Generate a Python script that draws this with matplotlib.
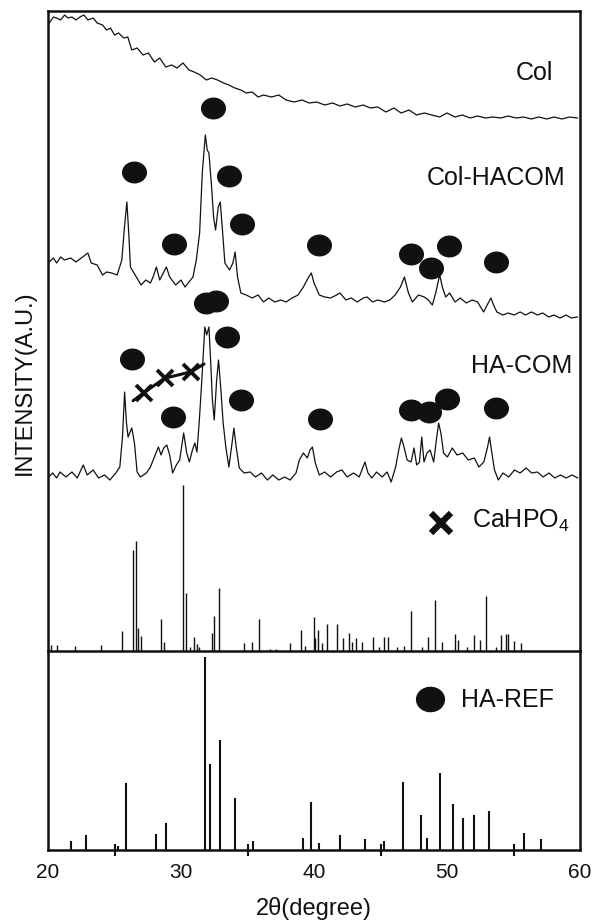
import numpy as np
import matplotlib
matplotlib.use('Agg')
import matplotlib.pyplot as plt
from matplotlib.path import Path
from matplotlib.transforms import Affine2D

plt.rcParams['font.family'] = ['Liberation Sans', 'DejaVu Sans']
plt.rcParams['mathtext.fontset'] = 'custom'
plt.rcParams['mathtext.rm'] = 'Liberation Sans'
plt.rcParams['mathtext.it'] = 'Liberation Sans:italic'
plt.rcParams['mathtext.bf'] = 'Liberation Sans:bold'

# ---------------- data ----------------
col_2theta = [20.1, 20.4, 20.65, 20.95, 21.25, 21.5, 21.8, 22.1, 22.4, 22.7, 23.0, 23.4, 23.7, 24.1, 24.4,
              24.7, 25.0, 25.3, 25.7, 26.0, 26.3, 26.7, 27.15, 27.55, 28.0, 28.4, 28.85, 29.3, 29.7, 30.15,
              30.6, 31.0, 31.45, 31.9, 32.3, 32.75, 33.2, 33.6, 34.05, 34.5, 34.9, 35.35, 35.8, 36.2, 36.8,
              37.35, 37.9, 38.5, 39.1, 39.65, 40.2, 40.8, 41.4, 41.95, 42.5, 43.1, 43.7, 44.25, 44.8, 45.4,
              46.0, 46.55, 47.15, 47.7, 48.3, 48.85, 49.45, 50.0, 50.6, 51.15, 51.75, 52.3, 52.9, 53.45, 54.05,
              54.6, 55.2, 55.75, 56.35, 56.9, 57.5, 58.05, 58.65, 59.2, 59.8]
col_int = [98, 104, 103, 101, 106, 103, 104, 101, 104, 106, 101, 103, 98, 96, 91,
           93, 86, 88, 83, 84, 71, 73, 66, 68, 59, 63, 54, 56, 53, 58,
           51, 49, 46, 41, 43, 41, 38, 36, 33, 31, 28, 29, 24, 26, 24,
           26, 21, 19, 21, 18, 19, 16, 18, 15, 17, 14, 16, 13, 14, 9,
           13, 8, 11, 6, 8, 6, 4, 8, 4, 6, 3, 5, 3, 4, 3,
           5, 3, 4, 2, 4, 2, 4, 2, 4, 3]

colha_2theta = [20.1, 20.4, 20.65, 20.95, 21.25, 21.7, 22.1, 22.5, 23.0, 23.25, 23.7, 24.1, 24.4, 24.8, 25.2,
                25.55, 25.75, 25.93, 26.07, 26.2, 26.55, 27.0, 27.35, 27.7, 27.9, 28.15, 28.4, 28.9, 29.15, 29.6,
                30.0, 30.3, 30.6, 30.9, 31.15, 31.4, 31.6, 31.83, 31.97, 32.1, 32.3, 32.45, 32.6, 32.8, 32.95,
                33.1, 33.3, 33.65, 33.9, 34.07, 34.25, 34.5, 34.9, 35.35, 35.8, 36.2, 36.6, 37.05, 37.5, 37.9,
                38.35, 38.8, 39.2, 39.6, 39.8, 40.0, 40.4, 40.8, 41.25, 41.7, 41.95, 42.4, 42.8, 43.25, 43.7,
                44.0, 44.4, 44.8, 45.3, 45.7, 46.1, 46.5, 46.8, 47.1, 47.4, 47.85, 48.3, 48.6, 48.9, 49.15,
                49.45, 49.65, 49.9, 50.2, 50.6, 51.0, 51.45, 51.9, 52.3, 52.75, 53.1, 53.3, 53.5, 53.75, 54.2,
                54.6, 55.05, 55.5, 55.9, 56.35, 56.8, 57.2, 57.65, 58.05, 58.5, 58.95, 59.35, 59.8]
colha_int = [59, 63, 58, 64, 61, 63, 59, 63, 68, 58, 56, 46, 49, 48, 46,
             61, 94, 119, 88, 54, 46, 36, 41, 38, 44, 54, 41, 54, 44, 36,
             41, 34, 39, 44, 61, 88, 148, 186, 171, 168, 134, 104, 91, 114, 119,
             94, 58, 51, 58, 69, 44, 28, 26, 23, 26, 19, 23, 19, 21, 19,
             23, 26, 34, 44, 48, 38, 26, 24, 23, 26, 28, 21, 23, 19, 23,
             24, 19, 21, 19, 21, 26, 34, 44, 28, 19, 26, 24, 21, 16, 28,
             46, 34, 24, 28, 19, 23, 18, 21, 19, 9, 18, 23, 16, 9, 6,
             8, 6, 9, 6, 9, 6, 8, 4, 6, 3, 6, 3, 4]

hacom_2theta = [20.05, 20.35, 20.65, 20.9, 21.35, 21.8, 22.2, 22.65, 22.95, 23.4, 23.8, 24.25, 24.65, 25.1, 25.4,
                25.6, 25.76, 25.9, 26.02, 26.17, 26.3, 26.5, 26.7, 26.95, 27.4, 27.7, 28.0, 28.3, 28.5, 28.7,
                28.93, 29.15, 29.37, 29.65, 29.9, 30.2, 30.43, 30.63, 30.86, 31.04, 31.2, 31.38, 31.58, 31.79, 31.93,
                32.1, 32.25, 32.36, 32.5, 32.68, 32.82, 33.0, 33.17, 33.37, 33.6, 33.8, 33.98, 34.15, 34.38, 34.75,
                35.2, 35.6, 36.05, 36.5, 36.9, 37.35, 37.8, 38.2, 38.65, 38.9, 39.2, 39.5, 39.7, 39.88, 40.1,
                40.4, 40.8, 41.25, 41.7, 42.1, 42.5, 42.97, 43.4, 43.83, 44.06, 44.35, 44.7, 45.13, 45.5, 45.8,
                46.14, 46.37, 46.57, 46.77, 47.0, 47.3, 47.52, 47.72, 47.93, 48.1, 48.27, 48.5, 48.73, 49.0, 49.2,
                49.37, 49.54, 49.74, 50.03, 50.4, 50.75, 51.18, 51.6, 52.05, 52.4, 52.77, 53.05, 53.2, 53.34, 53.57,
                53.86, 54.2, 54.64, 55.07, 55.5, 55.94, 56.37, 56.8, 57.23, 57.67, 58.1, 58.53, 58.96, 59.4, 59.83]
hacom_int = [6, 10, 5, 11, 6, 11, 5, 18, 8, 13, 5, 8, 3, 10, 16,
             46, 91, 60, 46, 51, 55, 40, 11, 6, 10, 16, 26, 36, 28, 35,
             38, 28, 10, 18, 23, 50, 30, 21, 33, 40, 31, 63, 106, 156, 148,
             156, 116, 83, 63, 103, 123, 93, 60, 36, 16, 36, 55, 36, 15, 10,
             11, 6, 10, 3, 8, 3, 6, 3, 10, 23, 30, 25, 33, 36, 20,
             8, 11, 6, 11, 13, 6, 10, 6, 21, 10, 5, 11, 6, 11, 1,
             16, 33, 45, 36, 23, 21, 35, 18, 21, 46, 21, 30, 33, 21, 43,
             60, 50, 30, 26, 35, 28, 30, 23, 25, 16, 21, 36, 46, 33, 13,
             3, 10, 6, 13, 10, 15, 10, 11, 6, 10, 5, 8, 5, 8, 5]

# reference stick patterns (relative intensity, %)
cahpo4_2theta = [20.2, 20.7, 22.0, 24.0, 25.53, 26.4, 26.6, 26.74, 26.97, 28.5, 28.73, 30.17, 30.37, 30.66, 30.98,
                 31.18, 31.33, 32.3, 32.45, 32.85, 34.7, 35.36, 35.85, 36.66, 37.18, 38.16, 39.0, 39.3, 39.97, 40.1,
                 40.3, 40.6, 40.98, 41.76, 42.16, 42.62, 42.85, 43.17, 43.63, 44.47, 44.87, 45.27, 45.53, 46.22, 46.8,
                 47.32, 48.15, 48.59, 49.1, 49.6, 50.6, 50.84, 51.47, 52.0, 52.48, 52.94, 53.72, 54.09, 54.4, 54.55,
                 55.04, 55.56]
cahpo4_int = [3.4, 3.4, 3, 3.4, 12, 61, 66, 14, 9, 19, 5.6, 100, 35, 2.4, 8.5,
              4, 2.4, 11, 21, 38, 4.6, 5.2, 19, 1.5, 1.5, 4.6, 12.5, 3, 20.7, 7.6,
              12.5, 4.6, 16, 16, 7.6, 11, 5.6, 7.6, 5.6, 8.5, 2.4, 8.5, 8.5, 2.4, 3,
              24, 2.4, 8.5, 31, 5.2, 10, 6.4, 2.4, 9.7, 6.4, 33, 2.4, 9.7, 10, 10.5,
              6.2, 5]

haref_2theta = [21.7, 22.85, 25.3, 25.88, 28.1, 28.9, 31.77, 32.18, 32.9, 34.05, 35.45, 39.15, 39.8, 40.4,
                41.95, 43.8, 45.3, 46.7, 48.05, 48.5, 49.45, 50.45, 51.2, 52.05, 53.15, 55.8, 57.1]
haref_int = [4.5, 8, 2, 34.5, 8.5, 13.8, 100, 44.6, 57, 27, 4.5, 6, 25, 3.5,
             7.6, 5.5, 4.5, 35, 18, 6, 39.6, 23.6, 16.4, 18, 20.3, 9, 5.5]

# phase markers (2theta of identified peaks)
colha_ha_marks = [32.4, 26.47, 33.6, 34.56, 29.5, 40.4, 47.28, 50.16, 48.8, 53.67]
hacom_ha_marks = [31.9, 32.6, 33.46, 26.34, 34.52, 29.37, 40.46, 47.29, 48.65, 50.03, 53.69]
hacom_cahpo4_marks = [27.2, 28.76, 30.78]

x_ticks = [20, 30, 40, 50, 60]
x_minor = [25, 35, 45, 55]

# ---------------- layout ----------------
W, H = 598, 923
L, R, T, D, B = 48, 580, 11, 651, 850
fig = plt.figure(figsize=(W / 100, H / 100), dpi=100)
ax_top = fig.add_axes([L / W, 1 - D / H, (R - L) / W, (D - T) / H])
ax_bot = fig.add_axes([L / W, 1 - B / H, (R - L) / W, (B - D) / H])

def ypx(y):  # vertical position inside the upper panel (pixels from the top of the image)
    return D - y

off_col, off_colha, off_hacom = 530, 330, 168
stick_scale_top = 166 / 100.0

ell = Path.unit_circle().transformed(Affine2D().scale(1.15, 1.0))
black = '#111111'

ax_top.plot(col_2theta, np.array(col_int) + off_col, color=black, lw=0.9)
ax_top.plot(colha_2theta, np.array(colha_int) + off_colha, color=black, lw=0.9)
ax_top.plot(hacom_2theta, np.array(hacom_int) + off_hacom, color=black, lw=0.9)
ax_top.vlines(cahpo4_2theta, 0, np.array(cahpo4_int) * stick_scale_top, color=black, lw=1.0)

colha_mark_y = [ypx(v) for v in [108, 172, 176, 224, 244, 245, 254, 246, 268, 262]]
hacom_mark_y = [ypx(v) for v in [302.5, 301, 337, 359, 400, 417, 419, 410, 412, 399, 408]]
ax_top.plot(colha_ha_marks, colha_mark_y, ls='none', marker=ell, ms=17, color=black)
ax_top.plot(hacom_ha_marks, hacom_mark_y, ls='none', marker=ell, ms=17, color=black)

cross_y = [ypx(v) for v in [392.7, 378.3, 371.7]]
ax_top.plot([26.4] + hacom_cahpo4_marks + [31.73], [ypx(400.7)] + cross_y + [ypx(364)],
            color=black, lw=2.2, solid_capstyle='round')
ax_top.plot(hacom_cahpo4_marks, cross_y, ls='none', marker='x', ms=11, mew=2.8, color=black)

fs = 18
ax_top.text(57.97, ypx(80), 'Col', ha='right', va='baseline', fontsize=fs, color=black)
ax_top.text(58.93, ypx(185), 'Col-HACOM', ha='right', va='baseline', fontsize=fs, color=black)
ax_top.text(59.4, ypx(373), 'HA-COM', ha='right', va='baseline', fontsize=fs, color=black)
ax_top.plot([49.54], [ypx(523)], ls='none', marker='x', ms=15, mew=4.5, color=black)
ax_top.text(51.85, ypx(528), r'CaHPO$_4$', ha='left', va='baseline', fontsize=fs, color=black)

ax_top.set_xlim(20, 60)
ax_top.set_ylim(0, D - T)
ax_top.set_xticks([])
ax_top.set_yticks([])
ax_top.spines['bottom'].set_visible(False)

# lower panel: HA reference
ax_bot.vlines(haref_2theta, 0, haref_int, color=black, lw=1.5)
ax_bot.set_xlim(20, 60)
ax_bot.set_ylim(0, 103)
bot_scale = (B - D) / 103.0
ax_bot.plot([48.74], [(B - 699) / bot_scale], ls='none', marker=ell, ms=20, color=black)
ax_bot.text(51.03, (B - 707) / bot_scale, 'HA-REF', ha='left', va='baseline', fontsize=fs, color=black)
ax_bot.set_yticks([])
ax_bot.set_xticks(x_ticks)
ax_bot.set_xticks(x_minor, minor=True)
ax_bot.tick_params(axis='x', which='major', length=0, pad=9, labelsize=15, colors=black)
ax_bot.tick_params(axis='x', which='minor', direction='inout', length=8, width=1.5, colors=black)

for ax in (ax_top, ax_bot):
    for s in ax.spines.values():
        s.set_linewidth(1.8)
        s.set_color(black)

fig.text(314 / W, 1 - 909 / H, '2θ(degree)', ha='center', va='center', fontsize=17, color=black)
fig.text(25 / W, 1 - 383 / H, 'INTENSITY(A.U.)', ha='center', va='center', rotation=90, fontsize=17, color=black)

fig.savefig('out.png', dpi=100, facecolor='white')
